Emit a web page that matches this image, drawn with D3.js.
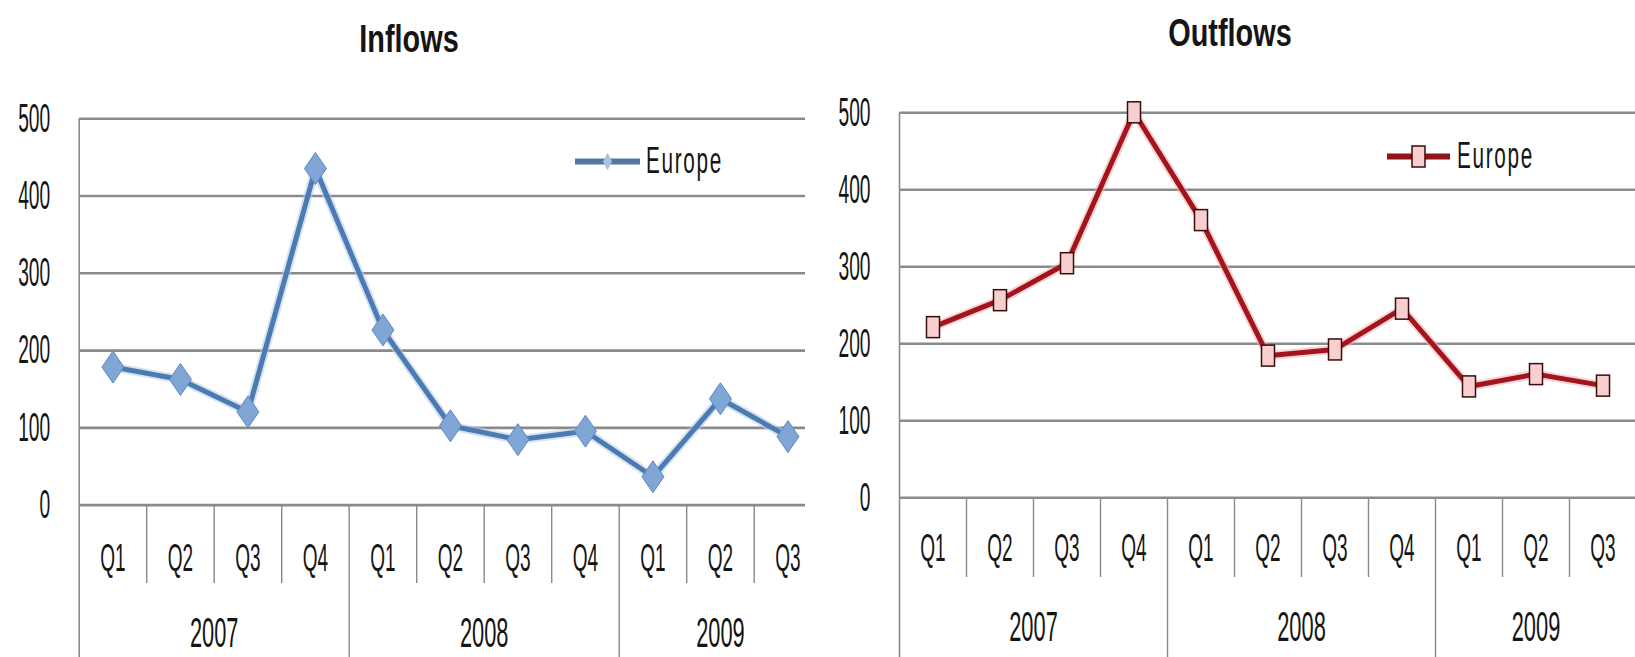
<!DOCTYPE html>
<html>
<head>
<meta charset="utf-8">
<script src="https://cdn.jsdelivr.net/npm/d3@7"></script>
<style>
  html, body { margin: 0; padding: 0; background: #ffffff; }
  svg { display: block; }
</style>
</head>
<body>
<svg id="chart" width="1635" height="657"></svg>
<script>
// Quarterly categories and the year each quarter belongs to
const quarters = ["Q1", "Q2", "Q3", "Q4", "Q1", "Q2", "Q3", "Q4", "Q1", "Q2", "Q3"];
const quarterYears = ["2007", "2007", "2007", "2007", "2008", "2008", "2008", "2008", "2009", "2009", "2009"];

// Europe flows per quarter
const inflows = [178, 162, 120, 435, 226, 102, 84, 95, 36, 137, 88];
const outflows = [221, 256, 304, 500, 360, 184, 192, 245, 144, 160, 145];

// Value axis ticks
const yTicks = [0, 100, 200, 300, 400, 500];
const seriesName = "Europe";

const W = 1635, H = 657;
const FONT = "'Liberation Sans', Arial, sans-serif";
const svg = d3.select("#chart");

// Draw a horizontally condensed text label
function condensedText(parent, txt, x, y, opts) {
  const sx = opts.sx;
  return parent.append("text")
    .attr("transform", `translate(${x},${y}) scale(${sx},1)`)
    .attr("text-anchor", opts.anchor || "middle")
    .attr("font-family", FONT)
    .attr("font-size", opts.size)
    .attr("font-weight", opts.weight || "normal")
    .attr("letter-spacing", opts.spacing || 0)
    .attr("fill", "#151515")
    .text(txt);
}

function drawPanel(cfg) {
  const n = quarters.length;
  const g = svg.append("g").attr("clip-path", `url(#${cfg.id}-clip)`);
  svg.append("clipPath").attr("id", `${cfg.id}-clip`)
    .append("rect").attr("x", cfg.clipLeft).attr("y", 0)
    .attr("width", cfg.clipRight - cfg.clipLeft).attr("height", H);

  const x = d3.scaleBand().domain(d3.range(n))
    .range([cfg.x0, cfg.x0 + cfg.band * n]).padding(0);
  const y = d3.scaleLinear().domain([0, 500]).range([cfg.zero, cfg.top]);
  const cx = i => x(i) + x.bandwidth() / 2;

  // Title
  condensedText(g, cfg.title, cfg.titleX, cfg.titleY, { size: 39, sx: 0.74, weight: "bold" });

  // Gridlines and value labels
  const sxTick = 0.48;
  const yAxis = g.append("g")
    .attr("transform", `translate(${cfg.x0},0)`)
    .call(d3.axisLeft(y).tickValues(yTicks).tickSize(-(cfg.clipRight - cfg.x0)).tickPadding(29));
  yAxis.select(".domain").remove();
  yAxis.attr("font-family", FONT).attr("font-size", 40);
  yAxis.selectAll(".tick line").attr("stroke", "#8a8a8a").attr("stroke-width", 2.6);
  yAxis.selectAll(".tick text")
    .attr("fill", "#151515")
    .each(function () {
      const t = d3.select(this);
      const tx = +t.attr("x");
      t.attr("x", tx / sxTick).attr("transform", `scale(${sxTick},1)`);
    });

  // Vertical axis line running down through the category area
  g.append("line")
    .attr("x1", cfg.x0).attr("x2", cfg.x0)
    .attr("y1", cfg.top).attr("y2", H)
    .attr("stroke", "#8a8a8a").attr("stroke-width", 1.6);

  // Category dividers: short between quarters, long between years
  const divs = d3.range(1, n).map(i => ({ i, yearBreak: quarterYears[i] !== quarterYears[i - 1] }));
  g.selectAll("line.div").data(divs).join("line")
    .attr("class", "div")
    .attr("x1", d => x(d.i)).attr("x2", d => x(d.i))
    .attr("y1", cfg.zero)
    .attr("y2", d => d.yearBreak ? H : cfg.qDivBottom)
    .attr("stroke", "#8a8a8a").attr("stroke-width", 1.4);

  // Quarter labels
  quarters.forEach((q, i) => {
    condensedText(g, q, cx(i), cfg.qLabelY, { size: 38, sx: 0.5 });
  });

  // Year labels centred on their quarter groups
  const groups = d3.groups(d3.range(n), i => quarterYears[i]);
  groups.forEach(([yr, idx]) => {
    const left = x(idx[0]);
    const right = x(idx[idx.length - 1]) + x.bandwidth();
    condensedText(g, yr, (left + right) / 2, cfg.yearLabelY, { size: 42, sx: 0.52 });
  });

  // Series line with a soft halo
  const line = d3.line().x((d, i) => cx(i)).y(d => y(d));
  g.append("path").datum(cfg.values)
    .attr("d", line).attr("fill", "none")
    .attr("stroke", cfg.halo).attr("stroke-width", 9)
    .attr("stroke-linejoin", "round").attr("opacity", 0.55);
  g.append("path").datum(cfg.values)
    .attr("d", line).attr("fill", "none")
    .attr("stroke", cfg.color).attr("stroke-width", 5)
    .attr("stroke-linejoin", "round");

  // Markers
  const pts = g.selectAll("g.pt").data(cfg.values).join("g")
    .attr("class", "pt")
    .attr("transform", (d, i) => `translate(${cx(i)},${y(d)})`);
  cfg.marker(pts, false);

  // Legend
  const lg = g.append("g");
  lg.append("line")
    .attr("x1", cfg.legend.x1).attr("x2", cfg.legend.x2)
    .attr("y1", cfg.legend.y).attr("y2", cfg.legend.y)
    .attr("stroke", cfg.legendColor).attr("stroke-width", 6);
  cfg.marker(lg.append("g").attr("transform", `translate(${(cfg.legend.x1 + cfg.legend.x2) / 2},${cfg.legend.y})`), true);
  condensedText(lg, seriesName, cfg.legend.tx, cfg.legend.ty, { size: 37, sx: 0.56, anchor: "start", spacing: 3 });
}

// Diamond markers for the inflow series
function diamond(sel, small) {
  const w = small ? 4 : 11, h = small ? 8 : 16;
  sel.append("path")
    .attr("d", `M0,${-h}L${w},0L0,${h}L${-w},0Z`)
    .attr("fill", small ? "#a9c3e6" : "#80a6d6")
    .attr("stroke", small ? "#a9c3e6" : "#5f89be")
    .attr("stroke-width", 1);
}

// Square markers for the outflow series
function square(sel, small) {
  const w = 13, h = 21;
  sel.append("rect")
    .attr("x", -w / 2).attr("y", -h / 2)
    .attr("width", w).attr("height", h)
    .attr("fill", "#f8cece")
    .attr("stroke", "#3a0c0c").attr("stroke-width", 1.5);
}

drawPanel({
  id: "inflows", title: "Inflows", titleX: 409, titleY: 52,
  x0: 79.2, band: 67.5, top: 118.3, zero: 504.6,
  clipLeft: 0, clipRight: 805,
  qDivBottom: 583, qLabelY: 571, yearLabelY: 647,
  values: inflows, color: "#4c7bb4", halo: "#b7cce8",
  legendColor: "#5476a3", marker: diamond,
  legend: { x1: 575, x2: 640, y: 161.5, tx: 646, ty: 173 }
});

drawPanel({
  id: "outflows", title: "Outflows", titleX: 1230, titleY: 46,
  x0: 899.5, band: 67, top: 112.3, zero: 497.3,
  clipLeft: 815, clipRight: W,
  qDivBottom: 577, qLabelY: 561, yearLabelY: 641,
  values: outflows, color: "#a3141c", halo: "#efb3b3",
  legendColor: "#8e1418", marker: square,
  legend: { x1: 1387, x2: 1450, y: 156.5, tx: 1457, ty: 168 }
});
</script>
</body>
</html>
